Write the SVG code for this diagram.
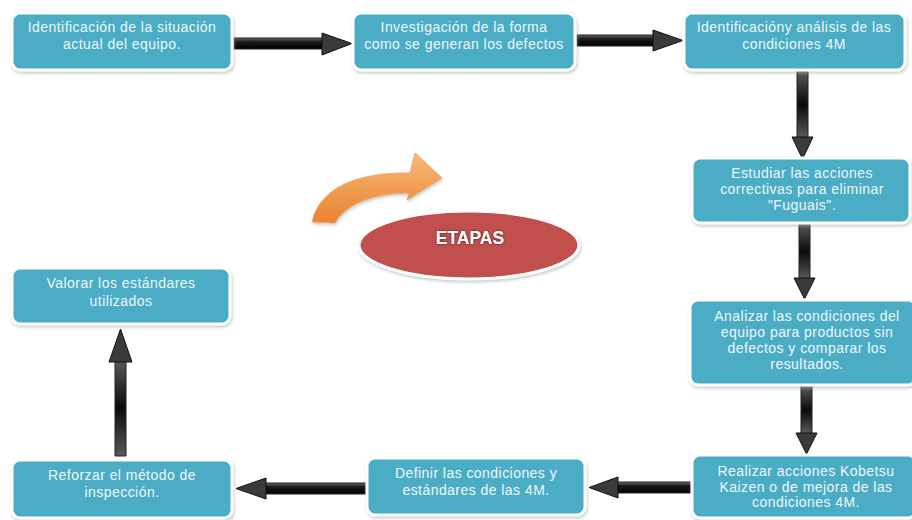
<svg xmlns="http://www.w3.org/2000/svg" width="912" height="520" viewBox="0 0 912 520">
  <defs>
    <filter id="soft" x="-10%" y="-20%" width="120%" height="140%">
      <feDropShadow dx="1" dy="2" stdDeviation="1.5" flood-color="#9aa" flood-opacity="0.55"/>
    </filter>
    <filter id="glow" x="-10%" y="-30%" width="120%" height="160%">
      <feDropShadow dx="0" dy="0" stdDeviation="1" flood-color="#000" flood-opacity="0.7"/>
    </filter>
    <linearGradient id="shaftH" x1="0" y1="0" x2="0" y2="1">
      <stop offset="0" stop-color="#6a6a6a"/>
      <stop offset="0.35" stop-color="#1a1a1a"/>
      <stop offset="1" stop-color="#000"/>
    </linearGradient>
    <linearGradient id="shaftV" x1="0" y1="0" x2="0" y2="1">
      <stop offset="0" stop-color="#5a5a5a"/>
      <stop offset="0.5" stop-color="#0a0a0a"/>
      <stop offset="1" stop-color="#5a5a5a"/>
    </linearGradient>
    <linearGradient id="orange" x1="0" y1="0" x2="0" y2="1">
      <stop offset="0" stop-color="#f9b878"/>
      <stop offset="1" stop-color="#e8832f"/>
    </linearGradient>
    <style>
      .box { fill: #4bacc6; stroke: #ffffff; stroke-width: 3; filter: url(#soft); }
      .lbl { font-family: "Liberation Sans", Arial, sans-serif; font-size: 14px; letter-spacing: 0.45px; fill: #eef8fb; text-anchor: middle; }
      .arrow { stroke: #222; stroke-width: 1; stroke-linejoin: round; }
      .head { fill: #3a3a3a; stroke: #111; stroke-width: 1; stroke-linejoin: round; }
    </style>
  </defs>

  <rect width="912" height="520" fill="#ffffff"/>

  <!-- connectors -->
  <g id="connectors">
    <!-- 1 -> 2 -->
    <rect class="arrow" x="234" y="38" width="90" height="11" fill="url(#shaftH)"/>
    <polygon class="head" points="322,33 352,43.5 322,55"/>
    <!-- 2 -> 3 -->
    <rect class="arrow" x="577" y="35" width="78" height="11" fill="url(#shaftH)"/>
    <polygon class="head" points="653,30 683,40.5 653,51"/>
    <!-- 3 -> 4 -->
    <rect class="arrow" x="797" y="71" width="11" height="67" fill="url(#shaftV)"/>
    <polygon class="head" points="792,137 813,137 802.5,159"/>
    <!-- 4 -> 5 -->
    <rect class="arrow" x="799" y="224" width="11" height="55" fill="url(#shaftV)"/>
    <polygon class="head" points="794,278 815,278 804.5,299"/>
    <!-- 5 -> 6 -->
    <rect class="arrow" x="801" y="386" width="11" height="48" fill="url(#shaftV)"/>
    <polygon class="head" points="796,433 817,433 806.5,454"/>
    <!-- 6 -> 7 -->
    <rect class="arrow" x="616" y="482" width="76" height="11" fill="url(#shaftH)"/>
    <polygon class="head" points="618,477 589,487.5 618,498"/>
    <!-- 7 -> 8 -->
    <rect class="arrow" x="264" y="483" width="103" height="11" fill="url(#shaftH)"/>
    <polygon class="head" points="266,478 236,488.5 266,499"/>
    <!-- 8 -> 9 -->
    <rect class="arrow" x="115" y="360" width="11" height="96" fill="url(#shaftV)"/>
    <polygon class="head" points="109,362 132,362 120.5,329"/>
  </g>

  <!-- central emblem -->
  <g id="curved-arrow" filter="url(#soft)">
    <path d="M312,222 C318,195 345,172 410,173 L415,153 L442,178 L407,200 L409,193 C372,193 345,205 335,223 Z" fill="url(#orange)" stroke="#f3a35c" stroke-width="0.8"/>
  </g>
  <g id="etapas">
    <ellipse cx="469" cy="245" rx="110" ry="34" fill="#c0504d" stroke="#ffffff" stroke-width="3" filter="url(#soft)"/>
    <text x="470" y="244" font-family="Liberation Sans, Arial, sans-serif" font-size="17.5" font-weight="bold" fill="#ffffff" text-anchor="middle" filter="url(#glow)">ETAPAS</text>
  </g>

  <!-- process steps -->
  <g id="n1">
    <rect class="box" x="12" y="13" width="220" height="57" rx="8"/>
    <text class="lbl" x="122" y="32">Identificación de la situación</text>
    <text class="lbl" x="122" y="49">actual del equipo.</text>
  </g>
  <g id="n2">
    <rect class="box" x="353" y="13" width="222" height="57" rx="8"/>
    <text class="lbl" x="464" y="32">Investigación de la forma</text>
    <text class="lbl" x="464" y="49">como se generan los defectos</text>
  </g>
  <g id="n3">
    <rect class="box" x="684" y="13" width="221" height="57" rx="8"/>
    <text class="lbl" x="794" y="32">Identificacióny análisis de las</text>
    <text class="lbl" x="794" y="49">condiciones 4M</text>
  </g>
  <g id="n4">
    <rect class="box" x="692" y="158" width="218" height="65" rx="8"/>
    <text class="lbl" x="802" y="178">Estudiar las acciones</text>
    <text class="lbl" x="802" y="194">correctivas para eliminar</text>
    <text class="lbl" x="802" y="210">"Fuguais".</text>
  </g>
  <g id="n5">
    <rect class="box" x="690" y="300" width="226" height="85" rx="8"/>
    <text class="lbl" x="807" y="321">Analizar las condiciones del</text>
    <text class="lbl" x="807" y="337">equipo para productos sin</text>
    <text class="lbl" x="807" y="353">defectos y comparar los</text>
    <text class="lbl" x="807" y="369">resultados.</text>
  </g>
  <g id="n6">
    <rect class="box" x="692" y="455" width="224" height="63" rx="8"/>
    <text class="lbl" x="806" y="476">Realizar acciones Kobetsu</text>
    <text class="lbl" x="806" y="492">Kaizen o de mejora de las</text>
    <text class="lbl" x="806" y="507">condiciones 4M.</text>
  </g>
  <g id="n7">
    <rect class="box" x="367" y="458" width="218" height="57" rx="8"/>
    <text class="lbl" x="476" y="478">Definir las condiciones y</text>
    <text class="lbl" x="476" y="495">estándares de las 4M.</text>
  </g>
  <g id="n8">
    <rect class="box" x="12" y="460" width="220" height="58" rx="8"/>
    <text class="lbl" x="122" y="480">Reforzar el método de</text>
    <text class="lbl" x="122" y="497">inspección.</text>
  </g>
  <g id="n9">
    <rect class="box" x="12" y="268" width="218" height="56" rx="8"/>
    <text class="lbl" x="121" y="288">Valorar los estándares</text>
    <text class="lbl" x="121" y="306">utilizados</text>
  </g>
</svg>
